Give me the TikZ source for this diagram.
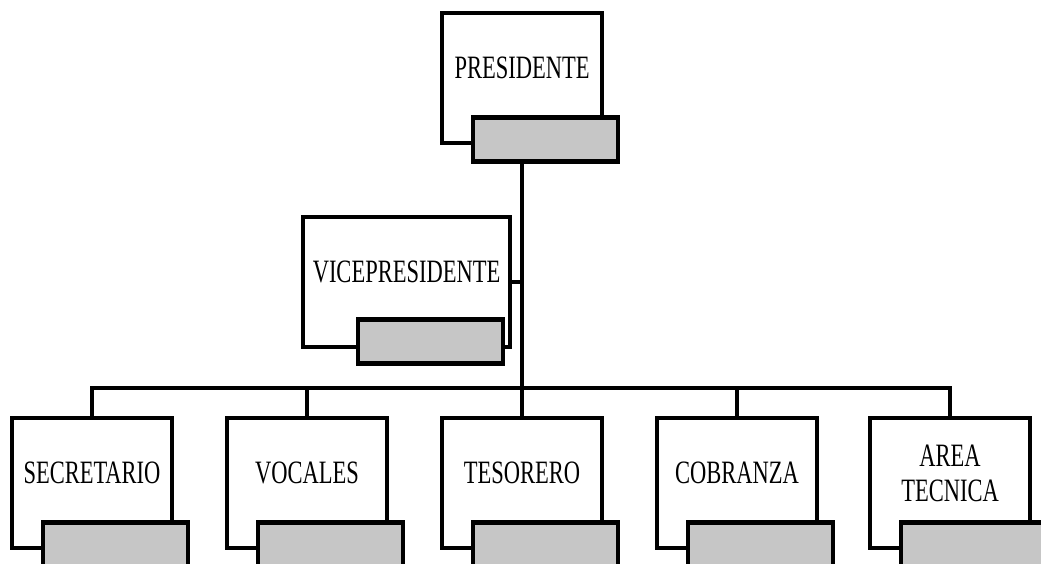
\documentclass[tikz,border=0pt]{standalone}
\usepackage{fontspec}
\setmainfont{Liberation Serif}
\usetikzlibrary{positioning,calc}

\tikzset{
  cargo/.style={draw, line width=4.5pt, fill=white, minimum width=160pt, minimum height=130pt,
    inner sep=0pt, align=center, font=\fontsize{22.5}{35}\selectfont},
  barra/.style={draw, line width=4.5pt, fill=gray!45, minimum width=145pt, minimum height=44pt, inner sep=0pt},
  linea/.style={line width=4.5pt}
}
\newcommand{\alto}[1]{\raisebox{10pt}[\height][\depth]{\scalebox{1}[1.45]{#1}}}

\begin{document}
\begin{tikzpicture}[x=1pt, y=-1pt]
  \useasboundingbox (0,0) rectangle (1041,563);

  % cargos
  \node[cargo] (pres) at (522,78) {\alto{PRESIDENTE}};
  \node[cargo, minimum width=207pt] (vice) at (406.5,282) {\alto{VICEPRESIDENTE}};
  \node[cargo] (sec) at (92,483) {\alto{SECRETARIO}};
  \node[cargo, right=50.5pt of sec] (voc) {\alto{VOCALES}};
  \node[cargo, right=50.5pt of voc] (tes) {\alto{TESORERO}};
  \node[cargo, right=50.5pt of tes] (cob) {\alto{COBRANZA}};
  \node[cargo, right=48.5pt of cob] (area) {\alto{AREA}\\\alto{TECNICA}};

  % barras grises
  \node[barra, anchor=north west] (presB) at ($(pres.south west)+(31,-30)$) {};
  \node[barra, anchor=north west] (viceB) at ($(vice.south west)+(55,-32)$) {};
  \foreach \c in {sec,voc,tes,cob,area}
    \node[barra, anchor=north west] (\c B) at ($(\c.south west)+(31,-30)$) {};

  % lineas
  \coordinate (bus) at (522,388);
  \draw[linea] (pres.south |- presB.south) -- (bus);
  \draw[linea] (vice.east) -- (vice.east -| bus);
  \foreach \c in {sec,voc,tes,cob,area}
    \draw[linea] (bus) -| (\c.north);
\end{tikzpicture}
\end{document}
